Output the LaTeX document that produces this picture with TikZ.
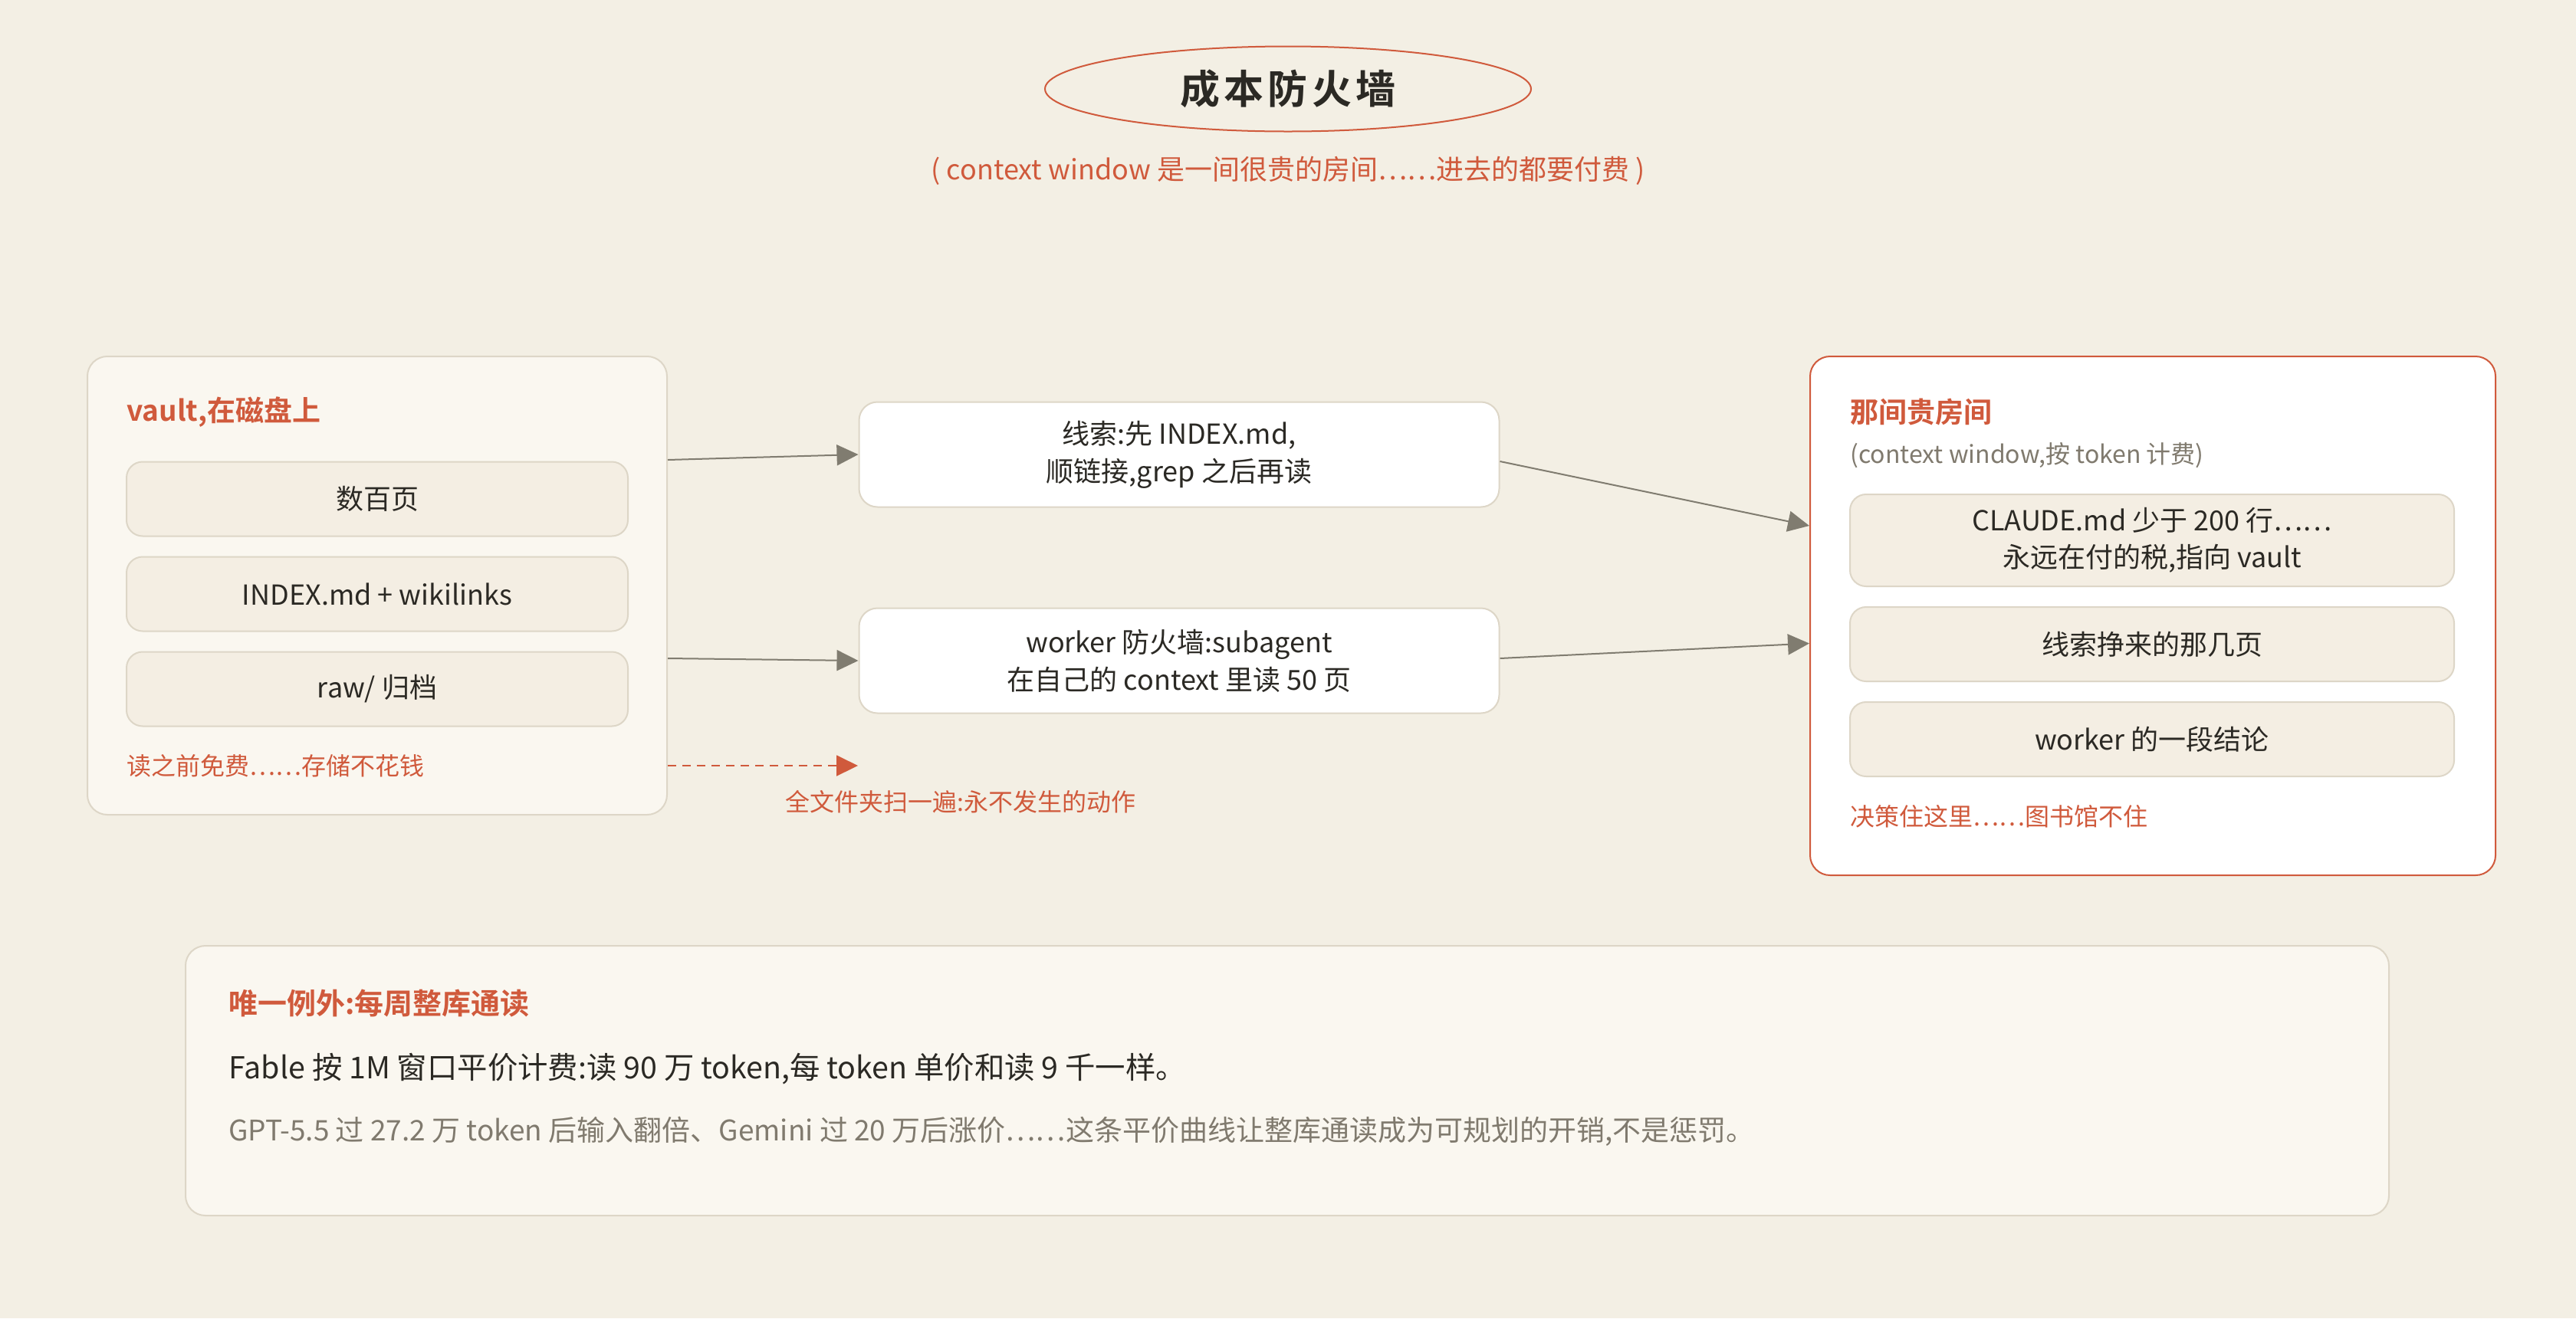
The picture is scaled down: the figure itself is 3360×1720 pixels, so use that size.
\documentclass[tikz,border=0pt]{standalone}
\usepackage{fontspec}
\setmainfont{Noto Sans CJK SC}[BoldFont={Noto Sans CJK SC Bold}]
\newfontfamily\headfont[LetterSpace=10]{Noto Sans CJK SC Bold}
\usetikzlibrary{positioning,arrows.meta,shapes.geometric}
\definecolor{bgc}{RGB}{243,239,228}
\definecolor{paper}{RGB}{250,247,240}
\definecolor{itemc}{RGB}{244,238,227}
\definecolor{line}{RGB}{221,214,199}
\definecolor{accent}{RGB}{208,90,60}
\definecolor{ink}{RGB}{43,41,36}
\definecolor{muted}{RGB}{128,122,110}
\definecolor{arrowc}{RGB}{128,124,112}

\begin{document}
\begin{tikzpicture}[x=0.5pt,y=-0.5pt,node distance=12.5pt,
  panel/.style={draw=line,line width=1pt,rounded corners=13pt,fill=paper},
  item/.style={draw=line,line width=1pt,rounded corners=10.5pt,fill=itemc,minimum height=48.5pt,align=center,text=ink,font=\fontsize{18}{24}\selectfont},
  midbox/.style={draw=line,line width=1pt,rounded corners=12pt,fill=white,minimum width=417.5pt,minimum height=68.5pt,align=center,text=ink,font=\fontsize{18}{24.5}\selectfont},
  head/.style={anchor=west,inner sep=0pt,text=accent,font=\bfseries\fontsize{18.5}{22}\selectfont},
  note/.style={anchor=west,inner sep=0pt,text=accent,font=\fontsize{16}{20}\selectfont},
  link/.style={draw=arrowc,line width=1pt,-{Triangle[length=14pt,width=13.5pt]}},
  scanlink/.style={draw=accent,line width=1pt,dash pattern=on 5.5pt off 4pt,-{Triangle[length=14pt,width=13.5pt]}}]
  \fill[bgc] (0,0) rectangle (3360,1720);
  \useasboundingbox (0,0) rectangle (3360,1720);

  \node[ellipse,draw=accent,line width=1pt,minimum width=317pt,minimum height=55.5pt,text=ink] (title) at (1680,116) {\headfont\fontsize{26}{30}\selectfont 成本防火墙};
  \node[text=accent,font=\fontsize{18}{22}\selectfont] (tagline) at (1680,223) {( context window 是一间很贵的房间……进去的都要付费 )};

  % vault on disk
  \node[panel,minimum width=378pt,minimum height=299pt] (vault) at (492,764) {};
  \node[head] (vaulthd) at (165,538) {vault,在磁盘上};
  \node[item,minimum width=327pt] (pages) at (492,651) {数百页};
  \node[item,minimum width=327pt,below=of pages] (index) {INDEX.md + wikilinks};
  \node[item,minimum width=327pt,below=of index] (raw) {raw/ 归档};
  \node[note] (free) at (165,999) {读之前免费……存储不花钱};

  \node[midbox] (clue) at (1538,593) {线索:先 INDEX.md,\\顺链接,grep 之后再读};
  \node[midbox] (worker) at (1538,862) {worker 防火墙:subagent\\在自己的 context 里读 50 页};
  \coordinate (scanend) at (1119,999);
  \node[note] (scanlbl) at (1024,1046) {全文件夹扫一遍:永不发生的动作};

  % the expensive room
  \node[panel,draw=accent,fill=white,minimum width=447pt,minimum height=338.5pt] (room) at (2808,803.5) {};
  \node[head] (roomhd) at (2413,538) {那间贵房间};
  \node[anchor=west,inner sep=0pt,text=muted,font=\fontsize{16}{20}\selectfont] (roomsub) at (2413,594) {(context window,按 token 计费)};
  \node[item,minimum width=394pt,minimum height=60pt] (claude) at (2807,705) {CLAUDE.md 少于 200 行……\\永远在付的税,指向 vault};
  \node[item,minimum width=394pt,below=of claude] (earned) {线索挣来的那几页};
  \node[item,minimum width=394pt,below=of earned] (concl) {worker 的一段结论};
  \node[note] (decide) at (2413,1065) {决策住这里……图书馆不住};

  \draw[link] ([yshift=82pt]vault.east) -- (clue.west);
  \draw[link] ([yshift=-47.5pt]vault.east) -- (worker.west);
  \draw[scanlink] ([yshift=-117.5pt]vault.east) -- (scanend);
  \draw[link] ([yshift=-4.5pt]clue.east) -- ([yshift=58.75pt]room.west);
  \draw[link] ([yshift=1.5pt]worker.east) -- ([yshift=-18pt]room.west);

  % weekly full read
  \node[panel,minimum width=1437pt,minimum height=176pt] (weekly) at (1679,1410) {};
  \node[head,font=\bfseries\fontsize{19}{22}\selectfont] (weeklyhd) at (298,1309) {唯一例外:每周整库通读};
  \node[anchor=west,inner sep=0pt,text=ink,font=\fontsize{19.7}{23}\selectfont] (fable) at (298,1395) {Fable 按 1M 窗口平价计费:读 90 万 token,每 token 单价和读 9 千一样。};
  \node[anchor=west,inner sep=0pt,text=muted,font=\fontsize{18.5}{22}\selectfont] (others) at (298,1476) {GPT-5.5 过 27.2 万 token 后输入翻倍、Gemini 过 20 万后涨价……这条平价曲线让整库通读成为可规划的开销,不是惩罚。};
\end{tikzpicture}
\end{document}
